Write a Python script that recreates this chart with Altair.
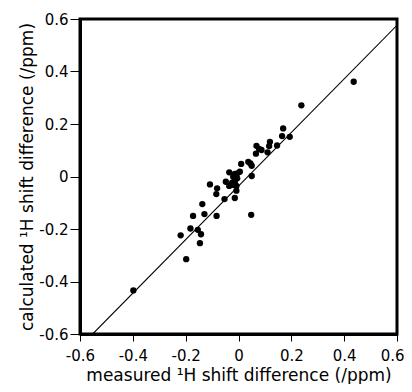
import altair as alt
import pandas as pd

measured = [0.436, 0.238, 0.169, 0.165, 0.194, 0.146, 0.119, 0.116, 0.110, 0.068,
            0.078, 0.087, 0.066, 0.037, 0.045, 0.050, 0.050, 0.048, 0.010, 0.005,
            -0.004, -0.014, -0.035, -0.020, -0.005, -0.014, -0.024, -0.048, -0.035, -0.023,
            -0.008, -0.008, -0.014, -0.053, -0.081, -0.084, -0.108, -0.137, -0.129, -0.083,
            -0.172, -0.182, -0.154, -0.142, -0.146, -0.219, -0.198, -0.398]
calculated = [0.361, 0.271, 0.183, 0.154, 0.151, 0.118, 0.132, 0.116, 0.092, 0.117,
              0.105, 0.101, 0.087, 0.056, 0.050, 0.041, 0.002, -0.146, 0.048, 0.018,
              0.012, 0.010, 0.016, -0.001, -0.007, -0.020, -0.023, -0.020, -0.036, -0.032,
              -0.036, -0.054, -0.082, -0.086, -0.045, -0.067, -0.030, -0.105, -0.143, -0.150,
              -0.150, -0.198, -0.203, -0.220, -0.254, -0.224, -0.315, -0.434]

line_x = [-0.552, 0.6]
line_y = [-0.6, 0.576]

ticks = [-0.6, -0.4, -0.2, 0, 0.2, 0.4, 0.6]

pts = pd.DataFrame({"x": measured, "y": calculated})
ln = pd.DataFrame({"x": line_x, "y": line_y})

label_expr = "datum.value == 0 ? '0' : (datum.value < 0 ? '-' : '') + format(abs(datum.value), '.1f')"

xscale = alt.Scale(domain=[-0.6, 0.6], nice=False)
yscale = alt.Scale(domain=[-0.6, 0.6], nice=False)

xaxis = alt.Axis(values=ticks, labelExpr=label_expr, title="measured ¹H shift difference (/ppm)",
                 grid=False, tickSize=7, tickWidth=1, labelPadding=7, titlePadding=4,
                 labelFlush=False, labelOverlap=False,
                 labelAlign={"condition": {"test": "datum.value > 0.59", "value": "right"}, "value": "center"},
                 labelOffset={"condition": {"test": "datum.value > 0.59", "value": 7}, "value": 0})
yaxis = alt.Axis(values=ticks, labelExpr=label_expr, title="calculated ¹H shift difference (/ppm)",
                 grid=False, tickSize=10, tickWidth=1, labelPadding=2, titlePadding=2,
                 labelFlush=False, labelOverlap=False)

line = alt.Chart(ln).mark_line(color="black", strokeWidth=1.1, clip=True).encode(
    x=alt.X("x:Q", scale=xscale, axis=xaxis),
    y=alt.Y("y:Q", scale=yscale, axis=yaxis),
)
dots = alt.Chart(pts).mark_circle(color="black", opacity=1, size=40).encode(
    x=alt.X("x:Q", scale=xscale),
    y=alt.Y("y:Q", scale=yscale),
)

chart = (line + dots).properties(
    width=317, height=315,
    autosize=alt.AutoSizeParams(type="none"),
    padding={"left": 72, "top": 11, "right": 7, "bottom": 50},
).configure_view(
    stroke="black", strokeWidth=3
).configure_axis(
    domainColor="black", domainWidth=3, tickColor="black",
    labelFont="DejaVu Sans", titleFont="DejaVu Sans",
    labelFontSize=15, titleFontSize=17, labelColor="black", titleColor="black",
    titleFontWeight="normal",
)

chart.save("out.html", embed_options={"renderer": "svg", "actions": False})
